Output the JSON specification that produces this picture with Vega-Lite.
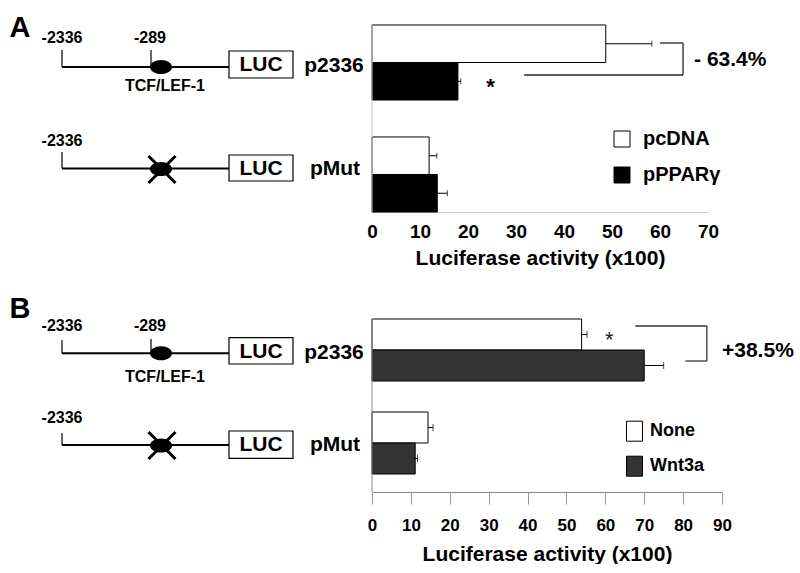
{
  "$schema": "https://vega.github.io/schema/vega-lite/v6.json",
  "padding": 0,
  "columns": 2,
  "spacing": {"row": 78, "column": 0},
  "bounds": "flush",
  "resolve": {"scale": {"fill": "independent"}, "legend": {"fill": "independent"}},
  "config": {"view": {"stroke": null}, "font": "Liberation Sans"},
  "datasets": {
    "barsA": [
      {"construct": "p2336", "treatment": "pcDNA", "value": 48.7, "upper": 58.3},
      {"construct": "p2336", "treatment": "pPPARγ", "value": 17.9, "upper": 18.5},
      {"construct": "pMut", "treatment": "pcDNA", "value": 11.9, "upper": 13.5},
      {"construct": "pMut", "treatment": "pPPARγ", "value": 13.6, "upper": 15.7}
    ],
    "barsB": [
      {"construct": "p2336", "treatment": "None", "value": 53.9, "upper": 55.3},
      {"construct": "p2336", "treatment": "Wnt3a", "value": 70.0, "upper": 75.0},
      {"construct": "pMut", "treatment": "None", "value": 14.4, "upper": 15.7},
      {"construct": "pMut", "treatment": "Wnt3a", "value": 11.1, "upper": 11.7}
    ],
    "annA": [
      {"kind": "yaxis", "x": 0, "x2": 0, "y": 25, "y2": 212},
      {"kind": "bracket", "x": 60, "x2": 64.8, "y": 43, "y2": 43},
      {"kind": "bracket", "x": 64.8, "x2": 64.8, "y": 43, "y2": 75},
      {"kind": "bracket", "x": 31.7, "x2": 64.8, "y": 75, "y2": 75},
      {"kind": "pct", "x": 67.1, "y": 60, "text": "- 63.4%"},
      {"kind": "star", "x": 24.7, "y": 93.7, "text": "*"}
    ],
    "annB": [
      {"kind": "yaxis", "x": 0, "x2": 0, "y": 29, "y2": 202},
      {"kind": "bracket", "x": 67.7, "x2": 86.1, "y": 36, "y2": 36},
      {"kind": "bracket", "x": 86.1, "x2": 86.1, "y": 36, "y2": 71},
      {"kind": "bracket", "x": 80.6, "x2": 86.1, "y": 71, "y2": 71},
      {"kind": "pct", "x": 90, "y": 60.5, "text": "+38.5%"},
      {"kind": "star", "x": 61, "y": 56.5, "text": "*"}
    ],
    "diagA": [
      {"kind": "backbone", "x": 62, "x2": 229, "y": 67, "y2": 67},
      {"kind": "backbone", "x": 62, "x2": 229, "y": 168.5, "y2": 168.5},
      {"kind": "tick", "x": 62, "x2": 62, "y": 50, "y2": 67},
      {"kind": "tick", "x": 151, "x2": 151, "y": 50, "y2": 67},
      {"kind": "tick", "x": 62, "x2": 62, "y": 152, "y2": 168.5},
      {"kind": "box", "x": 229, "x2": 293, "y": 51, "y2": 78},
      {"kind": "box", "x": 229, "x2": 293, "y": 155, "y2": 181},
      {"kind": "site", "x": 161, "y": 67},
      {"kind": "site", "x": 161, "y": 169},
      {"kind": "mut", "x": 162, "y": 169.5},
      {"kind": "small", "x": 62, "y": 37.5, "text": "-2336"},
      {"kind": "small", "x": 150, "y": 37.5, "text": "-289"},
      {"kind": "small", "x": 165, "y": 86, "text": "TCF/LEF-1"},
      {"kind": "small", "x": 62, "y": 141, "text": "-2336"},
      {"kind": "big", "x": 261, "y": 65, "text": "LUC"},
      {"kind": "big", "x": 261, "y": 168.5, "text": "LUC"},
      {"kind": "big", "x": 334, "y": 66, "text": "p2336"},
      {"kind": "big", "x": 335, "y": 168.5, "text": "pMut"},
      {"kind": "panel", "x": 20, "y": 27.5, "text": "A"}
    ],
    "diagB": [
      {"kind": "backbone", "x": 62, "x2": 229, "y": 63.3, "y2": 63.3},
      {"kind": "backbone", "x": 62, "x2": 229, "y": 155, "y2": 155},
      {"kind": "tick", "x": 62, "x2": 62, "y": 50, "y2": 63.3},
      {"kind": "tick", "x": 151, "x2": 151, "y": 49, "y2": 63.3},
      {"kind": "tick", "x": 62, "x2": 62, "y": 143, "y2": 155},
      {"kind": "box", "x": 229, "x2": 293, "y": 47.7, "y2": 74},
      {"kind": "box", "x": 229, "x2": 293, "y": 141, "y2": 168.3},
      {"kind": "site", "x": 161, "y": 63.3},
      {"kind": "site", "x": 161, "y": 155.5},
      {"kind": "mut", "x": 162, "y": 155.5},
      {"kind": "small", "x": 62, "y": 36, "text": "-2336"},
      {"kind": "small", "x": 150, "y": 36, "text": "-289"},
      {"kind": "small", "x": 165, "y": 86.7, "text": "TCF/LEF-1"},
      {"kind": "small", "x": 62, "y": 128, "text": "-2336"},
      {"kind": "big", "x": 261, "y": 62, "text": "LUC"},
      {"kind": "big", "x": 261, "y": 155, "text": "LUC"},
      {"kind": "big", "x": 334, "y": 63.3, "text": "p2336"},
      {"kind": "big", "x": 335, "y": 155, "text": "pMut"},
      {"kind": "panel", "x": 20, "y": 19.2, "text": "B"}
    ]
  },
  "concat": [
    {
      "width": 372, "height": 212,
      "data": {"name": "diagA"},
      "encoding": {
        "x": {"field": "x", "type": "quantitative", "scale": {"domain": [0, 372], "nice": false, "zero": false}, "axis": null},
        "y": {"field": "y", "type": "quantitative", "scale": {"domain": [0, 212], "reverse": true, "nice": false, "zero": false}, "axis": null}
      },
      "layer": [
        {"transform": [{"filter": "datum.kind === 'backbone'"}], "mark": {"type": "rule", "color": "black", "strokeWidth": 2}, "encoding": {"x2": {"field": "x2"}, "y2": {"field": "y2"}}},
        {"transform": [{"filter": "datum.kind === 'tick'"}], "mark": {"type": "rule", "color": "black", "strokeWidth": 1.2}, "encoding": {"x2": {"field": "x2"}, "y2": {"field": "y2"}}},
        {"transform": [{"filter": "datum.kind === 'box'"}], "mark": {"type": "rect", "fill": "white", "stroke": "black", "strokeWidth": 1.2}, "encoding": {"x2": {"field": "x2"}, "y2": {"field": "y2"}}},
        {"transform": [{"filter": "datum.kind === 'site'"}], "mark": {"type": "point", "shape": "M-1,0A1,0.64,0,1,1,1,0A1,0.64,0,1,1,-1,0Z", "size": 484, "filled": true, "color": "black", "opacity": 1}},
        {"transform": [{"filter": "datum.kind === 'mut'"}], "mark": {"type": "point", "shape": "M-1,-1L1,1M1,-1L-1,1", "size": 729, "filled": false, "stroke": "black", "strokeWidth": 3, "opacity": 1}},
        {"transform": [{"filter": "datum.kind === 'small'"}], "mark": {"type": "text", "font": "Liberation Sans", "fontWeight": "bold", "fontSize": 16, "align": "center", "baseline": "middle", "color": "black"}, "encoding": {"text": {"field": "text"}}},
        {"transform": [{"filter": "datum.kind === 'big'"}], "mark": {"type": "text", "font": "Liberation Sans", "fontWeight": "bold", "fontSize": 21, "align": "center", "baseline": "middle", "color": "black"}, "encoding": {"text": {"field": "text"}}},
        {"transform": [{"filter": "datum.kind === 'panel'"}], "mark": {"type": "text", "font": "Liberation Sans", "fontWeight": "bold", "fontSize": 29, "align": "center", "baseline": "middle", "color": "black"}, "encoding": {"text": {"field": "text"}}}
      ]
    },
    {
      "width": 336, "height": 212,
      "resolve": {"scale": {"y": "independent", "yOffset": "independent"}},
      "layer": [
        {
          "data": {"name": "barsA"},
          "encoding": {
            "y": {"field": "construct", "type": "nominal", "sort": ["p2336", "pMut"], "scale": {"paddingInner": 0.33, "paddingOuter": 0.1116, "align": 1}, "axis": null},
            "yOffset": {"field": "treatment", "type": "nominal", "sort": ["pcDNA", "pPPARγ"], "scale": {"paddingInner": 0, "paddingOuter": 0}}
          },
          "layer": [
            {"mark": {"type": "bar", "stroke": "black", "strokeWidth": 1},
             "encoding": {
               "x": {"field": "value", "type": "quantitative", "title": "Luciferase activity (x100)", "scale": {"domain": [0, 70], "nice": false},
                     "axis": {"values": [0, 10, 20, 30, 40, 50, 60, 70], "domainColor": "#c8c8c8", "domainWidth": 1, "ticks": false, "grid": false,
                              "labelFont": "Liberation Sans", "labelFontWeight": "bold", "labelFontSize": 19, "labelColor": "black", "labelPadding": 10, "labelFlush": false, "labelOverlap": false,
                              "titleFont": "Liberation Sans", "titleFontWeight": "bold", "titleFontSize": 21, "titleColor": "black", "titlePadding": 6}},
               "fill": {"field": "treatment", "type": "nominal", "scale": {"domain": ["pcDNA", "pPPARγ"], "range": ["white", "black"]},
                        "legend": {"orient": "none", "legendX": 240, "legendY": 129, "title": null, "symbolType": "square", "symbolSize": 256, "symbolStrokeColor": "black", "symbolStrokeWidth": 1,
                                   "labelFont": "Liberation Sans", "labelFontWeight": "bold", "labelFontSize": 20, "labelColor": "black", "labelOffset": 11, "rowPadding": 16, "padding": 0}}
             }},
            {"mark": {"type": "rule", "color": "black", "strokeWidth": 1},
             "encoding": {"x": {"field": "value", "type": "quantitative", "title": "Luciferase activity (x100)", "axis": {"values": [0, 10, 20, 30, 40, 50, 60, 70]}}, "x2": {"field": "upper"}}},
            {"mark": {"type": "tick", "color": "black", "thickness": 1, "size": 6},
             "encoding": {"x": {"field": "upper", "type": "quantitative", "title": "Luciferase activity (x100)", "axis": {"values": [0, 10, 20, 30, 40, 50, 60, 70]}}}}
          ]
        },
        {
          "data": {"name": "annA"},
          "encoding": {
            "x": {"field": "x", "type": "quantitative", "title": "Luciferase activity (x100)", "axis": {"values": [0, 10, 20, 30, 40, 50, 60, 70]}},
            "y": {"field": "y", "type": "quantitative", "scale": {"domain": [0, 212], "reverse": true, "nice": false, "zero": false}, "axis": null}
          },
          "layer": [
            {"transform": [{"filter": "datum.kind === 'yaxis'"}], "mark": {"type": "rule", "color": "#c8c8c8", "strokeWidth": 1}, "encoding": {"x2": {"field": "x2"}, "y2": {"field": "y2"}}},
            {"transform": [{"filter": "datum.kind === 'bracket'"}], "mark": {"type": "rule", "color": "#222", "strokeWidth": 1.3}, "encoding": {"x2": {"field": "x2"}, "y2": {"field": "y2"}}},
            {"transform": [{"filter": "datum.kind === 'pct'"}], "mark": {"type": "text", "font": "Liberation Sans", "fontWeight": "bold", "fontSize": 21, "align": "left", "baseline": "middle", "color": "black"}, "encoding": {"text": {"field": "text"}}},
            {"transform": [{"filter": "datum.kind === 'star'"}], "mark": {"type": "text", "font": "Liberation Sans", "fontWeight": "bold", "fontSize": 22, "align": "center", "baseline": "alphabetic", "color": "black"}, "encoding": {"text": {"field": "text"}}}
          ]
        }
      ]
    },
    {
      "width": 372, "height": 202,
      "data": {"name": "diagB"},
      "encoding": {
        "x": {"field": "x", "type": "quantitative", "scale": {"domain": [0, 372], "nice": false, "zero": false}, "axis": null},
        "y": {"field": "y", "type": "quantitative", "scale": {"domain": [0, 202], "reverse": true, "nice": false, "zero": false}, "axis": null}
      },
      "layer": [
        {"transform": [{"filter": "datum.kind === 'backbone'"}], "mark": {"type": "rule", "color": "black", "strokeWidth": 2}, "encoding": {"x2": {"field": "x2"}, "y2": {"field": "y2"}}},
        {"transform": [{"filter": "datum.kind === 'tick'"}], "mark": {"type": "rule", "color": "black", "strokeWidth": 1.2}, "encoding": {"x2": {"field": "x2"}, "y2": {"field": "y2"}}},
        {"transform": [{"filter": "datum.kind === 'box'"}], "mark": {"type": "rect", "fill": "white", "stroke": "black", "strokeWidth": 1.2}, "encoding": {"x2": {"field": "x2"}, "y2": {"field": "y2"}}},
        {"transform": [{"filter": "datum.kind === 'site'"}], "mark": {"type": "point", "shape": "M-1,0A1,0.64,0,1,1,1,0A1,0.64,0,1,1,-1,0Z", "size": 484, "filled": true, "color": "black", "opacity": 1}},
        {"transform": [{"filter": "datum.kind === 'mut'"}], "mark": {"type": "point", "shape": "M-1,-1L1,1M1,-1L-1,1", "size": 729, "filled": false, "stroke": "black", "strokeWidth": 3, "opacity": 1}},
        {"transform": [{"filter": "datum.kind === 'small'"}], "mark": {"type": "text", "font": "Liberation Sans", "fontWeight": "bold", "fontSize": 16, "align": "center", "baseline": "middle", "color": "black"}, "encoding": {"text": {"field": "text"}}},
        {"transform": [{"filter": "datum.kind === 'big'"}], "mark": {"type": "text", "font": "Liberation Sans", "fontWeight": "bold", "fontSize": 21, "align": "center", "baseline": "middle", "color": "black"}, "encoding": {"text": {"field": "text"}}},
        {"transform": [{"filter": "datum.kind === 'panel'"}], "mark": {"type": "text", "font": "Liberation Sans", "fontWeight": "bold", "fontSize": 29, "align": "center", "baseline": "middle", "color": "black"}, "encoding": {"text": {"field": "text"}}}
      ]
    },
    {
      "width": 350, "height": 202,
      "resolve": {"scale": {"y": "independent", "yOffset": "independent"}},
      "layer": [
        {
          "data": {"name": "barsB"},
          "encoding": {
            "y": {"field": "construct", "type": "nominal", "sort": ["p2336", "pMut"], "scale": {"paddingInner": 0.3333, "paddingOuter": 0.2527, "align": 0.617}, "axis": null},
            "yOffset": {"field": "treatment", "type": "nominal", "sort": ["None", "Wnt3a"], "scale": {"paddingInner": 0, "paddingOuter": 0}}
          },
          "layer": [
            {"mark": {"type": "bar", "stroke": "black", "strokeWidth": 1},
             "encoding": {
               "x": {"field": "value", "type": "quantitative", "title": "Luciferase activity (x100)", "scale": {"domain": [0, 90], "nice": false},
                     "axis": {"values": [0, 10, 20, 30, 40, 50, 60, 70, 80, 90], "domainColor": "#888", "domainWidth": 1, "ticks": true, "tickColor": "#999", "tickSize": 12, "tickWidth": 1, "grid": false,
                              "labelFont": "Liberation Sans", "labelFontWeight": "bold", "labelFontSize": 17, "labelColor": "black", "labelPadding": 13, "labelFlush": false, "labelOverlap": false,
                              "titleFont": "Liberation Sans", "titleFontWeight": "bold", "titleFontSize": 21, "titleColor": "black", "titlePadding": 10}},
               "fill": {"field": "treatment", "type": "nominal", "scale": {"domain": ["None", "Wnt3a"], "range": ["white", "#333333"]},
                        "legend": {"orient": "none", "legendX": 252, "legendY": 130.7, "title": null, "symbolType": "M-0.8,-1H0.8V1H-0.8Z", "symbolSize": 400, "symbolStrokeColor": "black", "symbolStrokeWidth": 1,
                                   "labelFont": "Liberation Sans", "labelFontWeight": "bold", "labelFontSize": 18, "labelColor": "black", "labelOffset": 5, "rowPadding": 10, "padding": 0}}
             }},
            {"mark": {"type": "rule", "color": "black", "strokeWidth": 1},
             "encoding": {"x": {"field": "value", "type": "quantitative", "title": "Luciferase activity (x100)", "axis": {"values": [0, 10, 20, 30, 40, 50, 60, 70, 80, 90]}}, "x2": {"field": "upper"}}},
            {"mark": {"type": "tick", "color": "black", "thickness": 1, "size": 7},
             "encoding": {"x": {"field": "upper", "type": "quantitative", "title": "Luciferase activity (x100)", "axis": {"values": [0, 10, 20, 30, 40, 50, 60, 70, 80, 90]}}}}
          ]
        },
        {
          "data": {"name": "annB"},
          "encoding": {
            "x": {"field": "x", "type": "quantitative", "title": "Luciferase activity (x100)", "axis": {"values": [0, 10, 20, 30, 40, 50, 60, 70, 80, 90]}},
            "y": {"field": "y", "type": "quantitative", "scale": {"domain": [0, 202], "reverse": true, "nice": false, "zero": false}, "axis": null}
          },
          "layer": [
            {"transform": [{"filter": "datum.kind === 'yaxis'"}], "mark": {"type": "rule", "color": "#888", "strokeWidth": 1}, "encoding": {"x2": {"field": "x2"}, "y2": {"field": "y2"}}},
            {"transform": [{"filter": "datum.kind === 'bracket'"}], "mark": {"type": "rule", "color": "#333", "strokeWidth": 1.3}, "encoding": {"x2": {"field": "x2"}, "y2": {"field": "y2"}}},
            {"transform": [{"filter": "datum.kind === 'pct'"}], "mark": {"type": "text", "font": "Liberation Sans", "fontWeight": "bold", "fontSize": 21, "align": "left", "baseline": "middle", "color": "black"}, "encoding": {"text": {"field": "text"}}},
            {"transform": [{"filter": "datum.kind === 'star'"}], "mark": {"type": "text", "font": "Liberation Sans", "fontWeight": "normal", "fontSize": 22, "align": "center", "baseline": "alphabetic", "color": "#222"}, "encoding": {"text": {"field": "text"}}}
          ]
        }
      ]
    }
  ]
}
